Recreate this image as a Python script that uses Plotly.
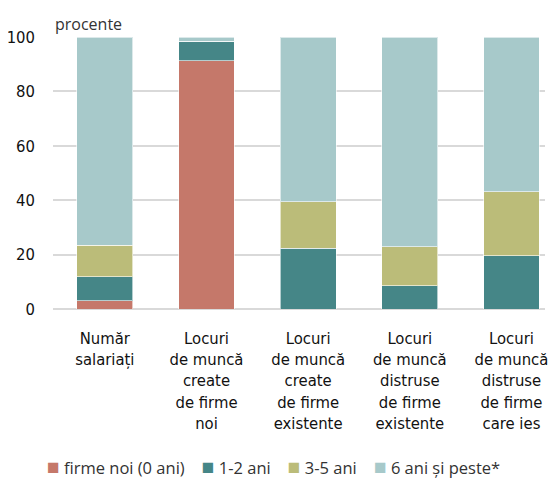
import plotly.graph_objects as go

categories = [
    "Număr<br>salariați",
    "Locuri<br>de muncă<br>create<br>de firme<br>noi",
    "Locuri<br>de muncă<br>create<br>de firme<br>existente",
    "Locuri<br>de muncă<br>distruse<br>de firme<br>existente",
    "Locuri<br>de muncă<br>distruse<br>de firme<br>care ies",
]
series_names = ["firme noi (0 ani)", "1-2 ani", "3-5 ani", "6 ani și peste*"]
firme_noi = [3.0, 91.3, 0.0, 0.0, 0.0]
ani_1_2 = [8.9, 7.2, 22.4, 8.6, 19.6]
ani_3_5 = [11.6, 0.0, 17.0, 14.3, 23.5]
ani_6_plus = [76.5, 1.5, 60.6, 77.1, 56.9]
y_ticks = [0, 20, 40, 60, 80, 100]

colors = ["#C5786A", "#458687", "#BBBC79", "#A7C9CA"]
values = [firme_noi, ani_1_2, ani_3_5, ani_6_plus]

cond = "DejaVu Sans Condensed, Liberation Sans Narrow, sans-serif"

fig = go.Figure()
for name, vals, col in zip(series_names, values, colors):
    fig.add_trace(go.Bar(
        x=list(range(len(categories))), y=vals, name=name,
        marker=dict(color=col, line=dict(color="rgba(255,255,255,0.6)", width=1)),
        width=0.55, showlegend=False,
    ))

# legend row built from the series names and colours
legend_text = "&nbsp;&nbsp;&nbsp;&nbsp;".join(
    f'<span style="color:{c};font-size:21px">■</span> {n}' for n, c in zip(series_names, colors)
)

fig.update_layout(
    barmode="stack",
    width=551, height=485,
    margin=dict(l=45, r=14, t=29, b=184),
    paper_bgcolor="white", plot_bgcolor="white",
    font=dict(family=cond, size=16, color="#111111"),
    xaxis=dict(
        range=[-0.51, 4.33], automargin=False,
        tickvals=list(range(len(categories))), ticktext=categories,
        tickfont=dict(family=cond, size=16.5, color="#111111"),
        showgrid=False, showline=False, ticks="", ticklabelstandoff=17,
    ),
    yaxis=dict(
        range=[0, 100], tickvals=y_ticks, automargin=False,
        showgrid=True, gridcolor="#D9D9D9", gridwidth=2,
        zeroline=True, zerolinecolor="#D9D9D9", zerolinewidth=2,
        tickfont=dict(family=cond, size=16.5, color="#111111"),
        ticks="", ticklabelstandoff=17,
    ),
    annotations=[
        dict(
            text="procente", xref="paper", yref="paper", x=0, y=1.0,
            xanchor="left", yanchor="bottom", showarrow=False,
            font=dict(family="Open Sans, sans-serif", size=16, color="#333333"),
        ),
        dict(
            text=legend_text, xref="paper", yref="paper", x=0.449, y=-0.577,
            xanchor="center", yanchor="middle", showarrow=False,
            font=dict(family="Open Sans, sans-serif", size=16.5, color="#333333"),
        ),
    ],
)

fig.write_html("out.html")
